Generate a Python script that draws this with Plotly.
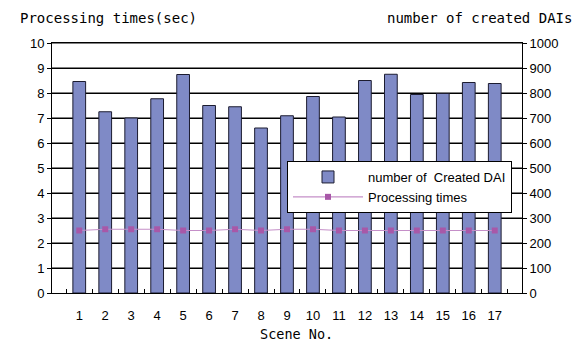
import plotly.graph_objects as go

scenes = [str(i) for i in range(1, 18)]
dai_counts = [846, 725, 700, 777, 874, 750, 745, 660, 709, 786, 704, 850, 875, 794, 798, 842, 838]
proc_times = [2.50, 2.55, 2.55, 2.55, 2.50, 2.50, 2.55, 2.50, 2.55, 2.55, 2.50, 2.50, 2.50, 2.50, 2.50, 2.50, 2.50]
dai_ticks = list(range(0, 1001, 100))

fig = go.Figure()
fig.add_trace(go.Bar(
    x=scenes, y=dai_counts, name="number of  Created DAI", yaxis="y",
    marker=dict(color="#7f8ac6", line=dict(color="#1c1c30", width=1)),
    width=0.49,
))
fig.add_trace(go.Scatter(
    x=scenes, y=proc_times, name="Processing times", yaxis="y2",
    mode="lines+markers",
    line=dict(color="#c58fc8", width=1.2),
    marker=dict(symbol="square", size=6, color="#a858a8"),
))

# horizontal gridlines at the right-axis tick values, under the bars
for v in dai_ticks[1:]:
    fig.add_shape(type="line", xref="paper", yref="y", x0=0, x1=1, y0=v, y1=v,
                  line=dict(color="black", width=1), layer="below")

tickfont = dict(family="Liberation Sans, Arial", size=13, color="black")
ML, MR, MT, MB = 52, 57, 43, 52
pw, ph = 579 - ML - MR, 345 - MT - MB


def px(xp):
    return (xp - ML) / pw


def py(yp):
    return (345 - MB - yp) / ph


mono = dict(family="DejaVu Sans Mono", size=14, color="black")
fig.update_layout(
    width=579, height=345,
    margin=dict(l=ML, r=MR, t=MT, b=MB),
    paper_bgcolor="white", plot_bgcolor="rgba(255,255,255,0)",
    showlegend=True,
    legend=dict(
        x=px(512), y=py(161), xanchor="right", yanchor="top",
        bgcolor="white", bordercolor="black", borderwidth=1,
        font=dict(family="Liberation Sans, Arial", size=13, color="black"),
        itemwidth=70, tracegroupgap=0,
    ),
    xaxis=dict(
        type="category", showline=True, linecolor="black", linewidth=1, mirror=True,
        ticks="inside", tickson="boundaries", ticklen=4, tickcolor="black",
        tickfont=tickfont, ticklabelstandoff=10, showgrid=False,
    ),
    yaxis=dict(
        side="right", range=[0, 1000], tickmode="array", tickvals=dai_ticks,
        showline=True, linecolor="black", linewidth=1,
        ticks="outside", ticklen=4, tickcolor="black",
        showgrid=True, gridcolor="rgb(0,0,0)", gridwidth=1,
        tickfont=tickfont, zeroline=False,
    ),
    yaxis2=dict(
        overlaying="y", side="left", range=[0, 10], tickmode="linear", tick0=0, dtick=1,
        showline=True, linecolor="black", linewidth=1,
        ticks="outside", ticklen=4, tickcolor="black",
        showgrid=False, tickfont=tickfont, zeroline=False,
    ),
    annotations=[
        dict(text="Processing times(sec)", x=px(18), y=py(18), xref="paper", yref="paper",
             xanchor="left", yanchor="middle", showarrow=False, font=mono),
        dict(text="number of created DAIs", x=px(574), y=py(18), xref="paper", yref="paper",
             xanchor="right", yanchor="middle", showarrow=False, font=mono),
        dict(text="Scene No.", x=px(296), y=py(334), xref="paper", yref="paper",
             xanchor="center", yanchor="middle", showarrow=False,
             font=dict(family="DejaVu Sans Mono", size=13.5, color="black")),
    ],
)

fig.write_html("out.html")
